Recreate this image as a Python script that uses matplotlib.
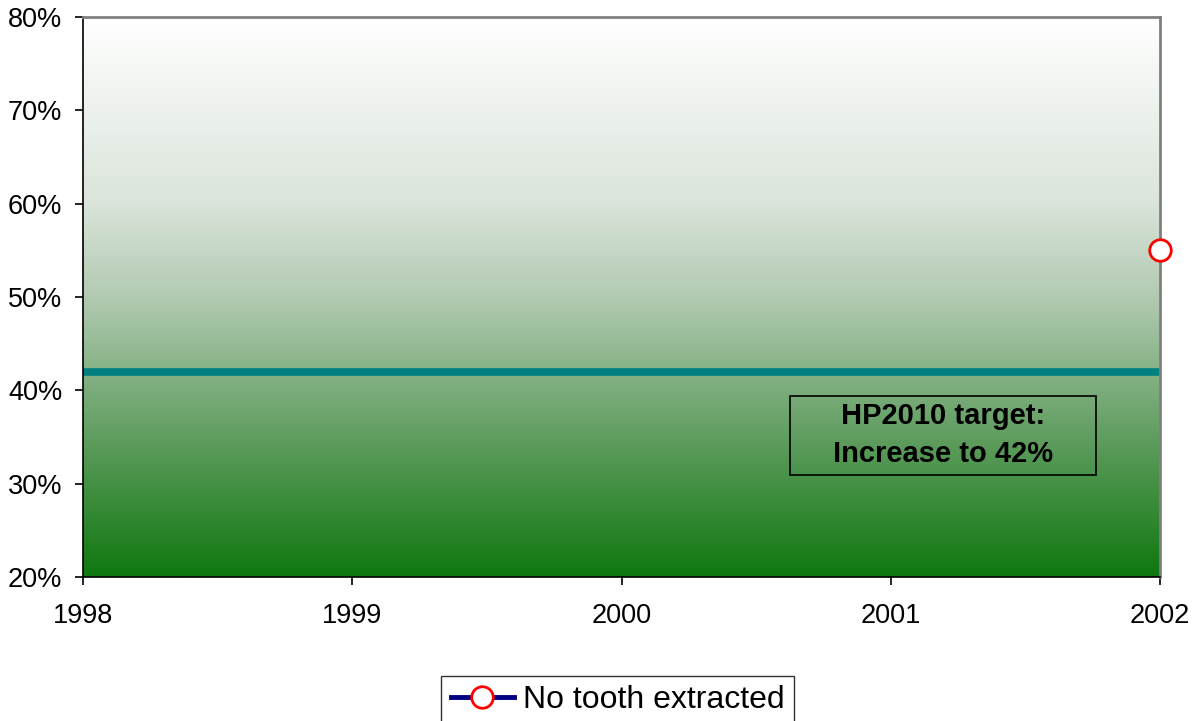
import numpy as np
import matplotlib
matplotlib.use("Agg")
import matplotlib.pyplot as plt
from matplotlib.colors import LinearSegmentedColormap
from matplotlib.lines import Line2D
from matplotlib.patches import Rectangle

plt.rcParams['font.family'] = ['Liberation Sans', 'DejaVu Sans']

# datos
years = [1998, 1999, 2000, 2001, 2002]
no_tooth_extracted = [None, None, None, None, 0.55]
target = 0.42
yticks = [0.2, 0.3, 0.4, 0.5, 0.6, 0.7, 0.8]

fig = plt.figure(figsize=(11.99, 7.21), dpi=100)
ax = fig.add_axes([0.0692, 0.1997, 0.8983, 0.7767])

# fondo degradado blanco (arriba) -> verde (abajo)
cmap = LinearSegmentedColormap.from_list(
    "grad", [(0.0, "#ffffff"), (0.33, "#dbe5db"), (0.5, "#b2cab2"),
             (0.77, "#5a9a5a"), (0.95, "#1f7f1f"), (1.0, "#0f780f")])
grad = np.linspace(0, 1, 256).reshape(-1, 1)
ax.imshow(grad, cmap=cmap, aspect="auto", origin="upper",
          extent=[1998, 2002, 0.2, 0.8], zorder=0)

# linea objetivo
ax.plot([years[0], years[-1]], [target, target], color="#008080", lw=5.5,
        solid_capstyle="round", zorder=2)

# serie
xs = [y for y, v in zip(years, no_tooth_extracted) if v is not None]
vs = [v for v in no_tooth_extracted if v is not None]
ax.plot(xs, vs, color="#000080", lw=3, marker="o", ms=15.5,
        markerfacecolor="white", markeredgecolor="red", markeredgewidth=2,
        clip_on=False, zorder=4)

ax.set_xlim(1998, 2002)
ax.set_ylim(0.2, 0.8)
ax.set_xticks(years)
ax.set_xticklabels([str(y) for y in years])
ax.set_yticks(yticks)
ax.set_yticklabels(["%d%%" % round(t * 100) for t in yticks])
ax.tick_params(axis="both", labelsize=19.5, length=6, width=1.2,
               color="black", direction="out")
ax.tick_params(axis="x", pad=13)
ax.tick_params(axis="y", pad=9)

for s in ["top", "right"]:
    ax.spines[s].set_color("#808080")
    ax.spines[s].set_linewidth(2)
for s in ["left", "bottom"]:
    ax.spines[s].set_color("black")
    ax.spines[s].set_linewidth(1.2)

# cuadro de texto del objetivo
ax.add_patch(Rectangle((2000.626, 0.3093), 1.136, 0.0846, facecolor="none",
                       edgecolor="black", lw=1.2, zorder=3))
ax.text(2001.194, 0.3525, "HP2010 target:\nIncrease to 42%", ha="center",
        va="center", fontsize=21, fontweight="bold", linespacing=1.45,
        zorder=3)

handle = Line2D([], [], color="#000080", lw=3.5, marker="o", ms=15.5,
                markerfacecolor="white", markeredgecolor="red",
                markeredgewidth=2)
leg = fig.legend([handle], ["No tooth extracted"], loc="upper center",
                 bbox_to_anchor=(0.5153, 0.063), fontsize=23,
                 frameon=True, fancybox=False, edgecolor="black",
                 handlelength=1.97, handletextpad=0.3, borderpad=0.3,
                 borderaxespad=0)
leg.get_frame().set_linewidth(1.0)

fig.savefig("out.png", dpi=100)
